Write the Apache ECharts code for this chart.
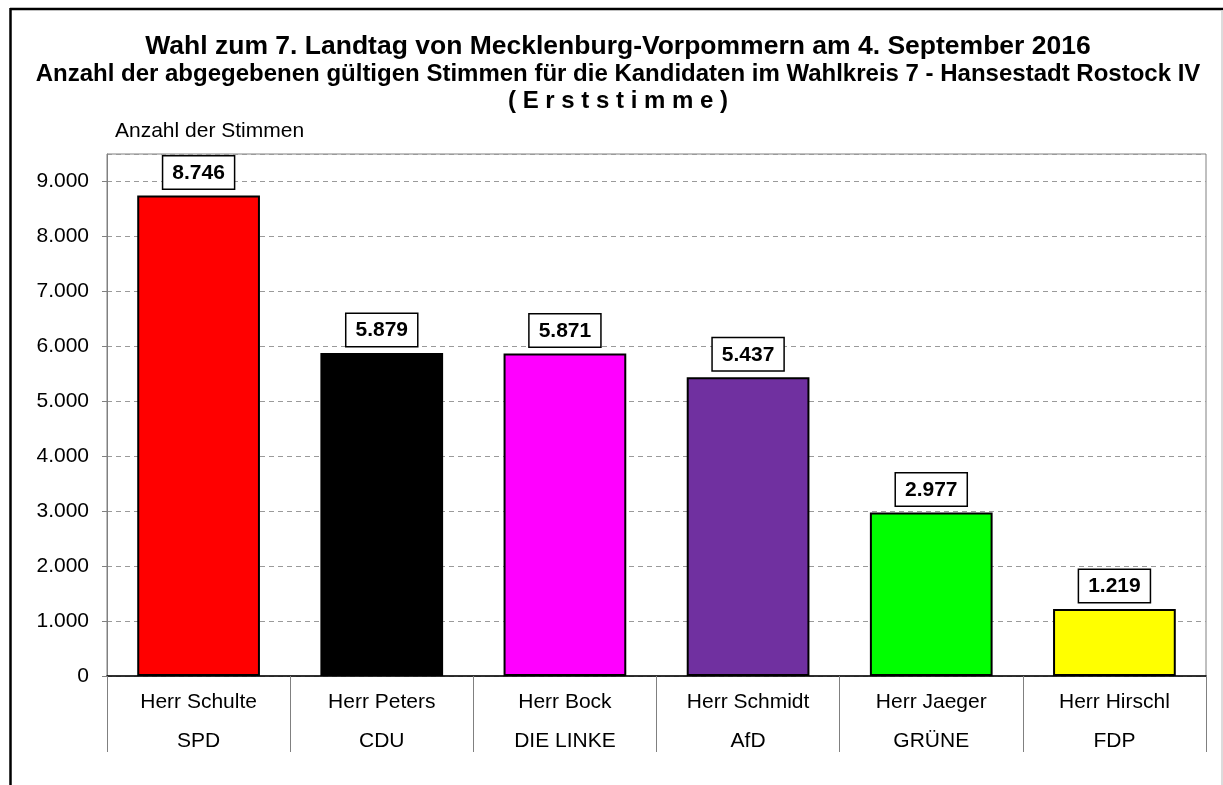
<!DOCTYPE html>
<html>
<head>
<meta charset="utf-8">
<script src="https://cdn.jsdelivr.net/npm/echarts@6/dist/echarts.min.js"></script>
<style>
  html, body { margin: 0; padding: 0; background: #fff; }
  #main { width: 1223px; height: 785px; }
</style>
</head>
<body>
<div id="main"></div>
<script>
// Kandidaten und Parteien
const kandidaten = ['Herr Schulte', 'Herr Peters', 'Herr Bock', 'Herr Schmidt', 'Herr Jaeger', 'Herr Hirschl'];
const parteien = ['SPD', 'CDU', 'DIE LINKE', 'AfD', 'GRÜNE', 'FDP'];
// Erststimmen
const stimmen = [8746, 5879, 5871, 5437, 2977, 1219];
const farben = ['#ff0000', '#000000', '#ff00ff', '#7030a0', '#00ff00', '#ffff00'];

const font = '"Liberation Sans", Arial, sans-serif';

// Tausenderpunkt wie im Original
function fmt(v) {
  return String(v).replace(/\B(?=(\d{3})+(?!\d))/g, '.');
}

const myChart = echarts.init(document.getElementById('main'));

const barData = stimmen.map((v, i) => ({
  value: v,
  itemStyle: { color: farben[i] }
}));

// Überschriften als Text, mittig bei x = 618
function kopf(text, y, size, weight) {
  return {
    type: 'text',
    x: 618,
    y: y,
    style: {
      text: text,
      align: 'center',
      verticalAlign: 'top',
      fill: '#000',
      font: weight + ' ' + size + 'px ' + font
    }
  };
}

const option = {
  animation: false,
  backgroundColor: '#fff',
  textStyle: { fontFamily: font },
  title: {
    text: 'Anzahl der Stimmen',
    left: 115,
    top: 121,
    padding: 0,
    textStyle: { fontSize: 21, fontWeight: 'normal', color: '#000', fontFamily: font }
  },
  grid: {
    left: 107,
    top: 154,
    right: 17,
    bottom: 109,
    show: true,
    borderColor: '#808080',
    borderWidth: 1,
    containLabel: false
  },
  xAxis: {
    type: 'category',
    data: kandidaten,
    axisLine: { lineStyle: { color: '#000', width: 1.5 } },
    axisTick: {
      show: true,
      interval: 0,
      length: 76,
      lineStyle: { color: '#808080', width: 1 }
    },
    axisLabel: {
      interval: 0,
      margin: 7,
      fontSize: 21,
      lineHeight: 39,
      color: '#000',
      fontFamily: font,
      formatter: function (value, idx) {
        return value + '\n' + parteien[idx];
      }
    }
  },
  yAxis: {
    type: 'value',
    min: 0,
    max: 9500,
    interval: 1000,
    axisLine: { show: true, lineStyle: { color: '#808080', width: 1 } },
    axisTick: { show: true, length: 5, lineStyle: { color: '#808080' } },
    axisLabel: {
      showMaxLabel: false,
      margin: 18,
      fontSize: 21,
      color: '#000',
      fontFamily: font,
      formatter: fmt
    },
    splitLine: {
      lineStyle: { color: '#9a9a9a', type: [5, 4], width: 1 }
    }
  },
  series: [
    {
      type: 'bar',
      data: barData,
      barCategoryGap: '33%',
      itemStyle: { borderColor: '#000', borderWidth: 2 },
      label: {
        show: true,
        position: 'top',
        distance: 7,
        formatter: (p) => fmt(p.value),
        fontSize: 21,
        fontWeight: 'bold',
        color: '#000',
        fontFamily: font,
        backgroundColor: '#fff',
        borderColor: '#000',
        borderWidth: 1.5,
        padding: [6, 9, 5, 9]
      }
    }
  ],
  graphic: [
    kopf('Wahl zum 7. Landtag von Mecklenburg-Vorpommern am 4. September 2016', 33, 26.5, 'bold'),
    kopf('Anzahl der abgegebenen gültigen Stimmen für die Kandidaten im Wahlkreis 7 - Hansestadt Rostock IV', 62, 24, 'bold'),
    kopf('( E r s t s t i m m e )', 89, 24, 'bold'),
    // äußerer Rahmen
    { type: 'line', shape: { x1: 10, y1: 9, x2: 1223, y2: 9 }, style: { stroke: '#000', lineWidth: 2.5 } },
    { type: 'line', shape: { x1: 10.5, y1: 8, x2: 10.5, y2: 785 }, style: { stroke: '#000', lineWidth: 2.5 } },
    { type: 'line', shape: { x1: 1222, y1: 10, x2: 1222, y2: 785 }, style: { stroke: '#d0d0d0', lineWidth: 1.5 } }
  ]
};

myChart.setOption(option);
</script>
</body>
</html>
